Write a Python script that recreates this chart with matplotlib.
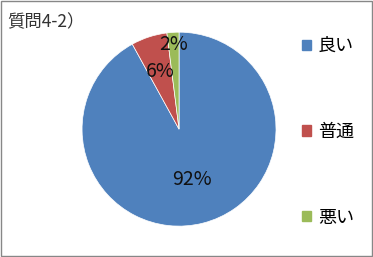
import matplotlib.pyplot as plt
import numpy as np

plt.rcParams['font.family'] = ['Noto Sans CJK JP', 'DejaVu Sans']

labels = ['良い', '普通', '悪い']
values = [92, 6, 2]
colors = ['#4F81BD', '#C0504D', '#9BBB59']
pct_dist = [0.54, 0.62, 0.87]

fig = plt.figure(figsize=(3.73, 2.57), dpi=100)
fig.patches.append(plt.Rectangle((0.002, 0.003), 0.994, 0.993, transform=fig.transFigure,
                                 fill=False, edgecolor='#878787', linewidth=1))

ax = fig.add_axes([0.22, 0.12, 0.52, 0.755])
wedges, texts, autotexts = ax.pie(values, colors=colors, startangle=90, counterclock=False,
                                  autopct='%d%%', pctdistance=0.6,
                                  wedgeprops=dict(edgecolor='white', linewidth=0.5),
                                  textprops=dict(fontsize=14, color='#111111'))
for w, t, d in zip(wedges, autotexts, pct_dist):
    ang = np.deg2rad((w.theta1 + w.theta2) / 2)
    t.set_position((d * np.cos(ang), d * np.sin(ang)))
ax.set_xlim(-1, 1)
ax.set_ylim(-1, 1)
ax.set_aspect('equal')

fig.text(0.02, 0.915, '質問4-2）', fontsize=12.5, color='#333333', va='center')

handles = [plt.Rectangle((0, 0), 1, 1, color=c) for c in colors]
fig.legend(handles, labels, loc='center left', bbox_to_anchor=(0.765, 0.487), frameon=False,
           fontsize=13, handlelength=0.5, handleheight=0.5, handletextpad=0.4,
           labelspacing=3.75)

fig.savefig('out.png', dpi=100)
